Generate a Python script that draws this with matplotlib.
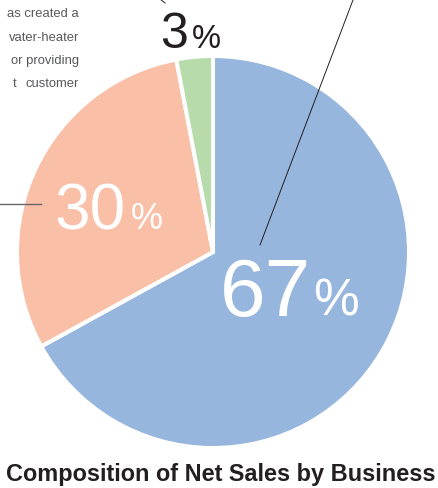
import matplotlib
matplotlib.use("Agg")
import matplotlib.pyplot as plt

# data
shares = [67, 30, 3]
colors = ["#97b6de", "#f9bfa7", "#b7dbaa"]
pct_text = ["67", "30", "3"]
note_lines = ["as created a", "vater-heater", "or providing", "customer"]
title = "Composition of Net Sales by Business"

plt.rcParams["font.family"] = ["Liberation Sans", "DejaVu Sans"]

W, H = 439, 488
fig = plt.figure(figsize=(W / 100, H / 100), dpi=100)
ax = fig.add_axes([0, 0, 1, 1])


def Y(y):
    # image pixel row -> axes y
    return H - y


ax.pie(shares, colors=colors, startangle=90, counterclock=False,
       center=(213, Y(252)), radius=196,
       wedgeprops=dict(edgecolor="white", linewidth=2.9))
ax.set_xlim(0, W)
ax.set_ylim(0, H)
ax.set_aspect("equal")
ax.axis("off")

# big percentages
ax.text(220, Y(316), pct_text[0], color="white", fontsize=59, ha="left", va="baseline")
ax.text(313, Y(316), "%", color="white", fontsize=37, ha="left", va="baseline")
ax.text(55, Y(229), pct_text[1], color="white", fontsize=46, ha="left", va="baseline")
ax.text(131, Y(229), "%", color="white", fontsize=26, ha="left", va="baseline")
ax.text(160, Y(48), pct_text[2], color="#231f20", fontsize=36, ha="left", va="baseline")
ax.text(192, Y(48), "%", color="#231f20", fontsize=23.5, ha="left", va="baseline")

# leader lines
ax.plot([353, 260], [Y(0), Y(245)], color="#231f20", lw=0.7)
ax.plot([0, 41], [Y(204), Y(204)], color="#666666", lw=1.0)
ax.plot([160, 165], [Y(-1), Y(3)], color="#231f20", lw=0.7)

# cropped note text at upper left
ys = [17, 40.5, 64, 87]
for line, yy in zip(note_lines, ys):
    ax.text(79, Y(yy), line, color="#58595b", fontsize=9.4,
            ha="right", va="baseline")
ax.text(13, Y(87), "t", color="#58595b", fontsize=9.4, ha="left", va="baseline")

ax.text(221, Y(481), title, color="#231f20", fontsize=16.9, fontweight="bold",
        ha="center", va="baseline")

fig.savefig("out.png", dpi=100)
